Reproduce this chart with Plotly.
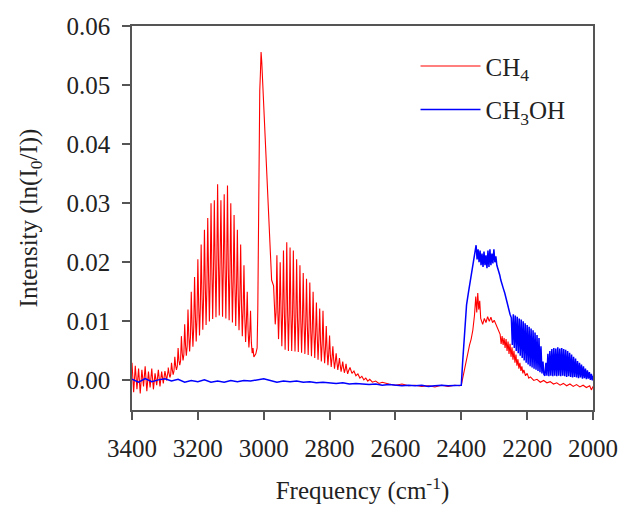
import numpy as np
import plotly.graph_objects as go

# ---------------- CH4 spectrum ----------------
# noisy baseline, 3400 -> 3290 cm-1, every 5 cm-1
ch4_base_start, ch4_base_step = 3400.0, -5.0
ch4_base = [0.0030, -0.0020, 0.0025, -0.0015, 0.0020, -0.0022, 0.0018, -0.0010,
            0.0024, -0.0018, 0.0015, -0.0012, 0.0020, -0.0015, 0.0012, -0.0008,
            0.0018, -0.0010, 0.0015, -0.0005, 0.0016, 0.0000, 0.0018]

# R branch, 3290 -> 3032.5 cm-1, every 2.5 cm-1
ch4_r_start, ch4_r_step = 3290.0, -2.5
ch4_r_branch = [
    0.0022, 0.0012, 0.0005, 0.0010,
    0.0030, 0.0018, 0.0010, 0.0016,
    0.0040, 0.0025, 0.0018, 0.0024,
    0.0055, 0.0034, 0.0026, 0.0033,
    0.0075, 0.0046, 0.0034, 0.0044,
    0.0095, 0.0060, 0.0042, 0.0058,
    0.0120, 0.0076, 0.0049, 0.0073,
    0.0150, 0.0093, 0.0057, 0.0090,
    0.0175, 0.0110, 0.0066, 0.0106,
    0.0205, 0.0128, 0.0076, 0.0124,
    0.0230, 0.0146, 0.0086, 0.0141,
    0.0255, 0.0163, 0.0094, 0.0158,
    0.0275, 0.0178, 0.0100, 0.0172,
    0.0300, 0.0190, 0.0104, 0.0186,
    0.0305, 0.0199, 0.0107, 0.0196,
    0.0332, 0.0205, 0.0110, 0.0202,
    0.0305, 0.0202, 0.0108, 0.0199,
    0.0315, 0.0197, 0.0105, 0.0192,
    0.0330, 0.0188, 0.0102, 0.0183,
    0.0300, 0.0178, 0.0098, 0.0172,
    0.0280, 0.0164, 0.0092, 0.0157,
    0.0255, 0.0147, 0.0085, 0.0139,
    0.0230, 0.0128, 0.0075, 0.0120,
    0.0195, 0.0108, 0.0065, 0.0100,
    0.0150, 0.0085, 0.0056, 0.0078,
    0.0118, 0.0064, 0.0046, 0.0055]

# Q branch
ch4_q_freq = [3030, 3024, 3020, 3018, 3016, 3014, 3012, 3010, 3008, 3006,
              3003, 3000, 2996, 2992, 2988, 2984, 2980, 2976]
ch4_q_branch = [0.0040, 0.0045, 0.0055, 0.0120, 0.0300, 0.0460, 0.0490, 0.0520,
                0.0556, 0.0540, 0.0500, 0.0470, 0.0430, 0.0360, 0.0300, 0.0250,
                0.0210, 0.0170]

# P branch, 2970 -> 2742.5 cm-1, every 2.5 cm-1
ch4_p_start, ch4_p_step = 2970.0, -2.5
ch4_p_branch = [
    0.0160, 0.0120, 0.0095, 0.0115,
    0.0212, 0.0125, 0.0070, 0.0118,
    0.0200, 0.0122, 0.0058, 0.0116,
    0.0220, 0.0120, 0.0052, 0.0114,
    0.0234, 0.0118, 0.0050, 0.0112,
    0.0225, 0.0115, 0.0050, 0.0110,
    0.0220, 0.0112, 0.0049, 0.0107,
    0.0205, 0.0108, 0.0048, 0.0104,
    0.0195, 0.0104, 0.0047, 0.0100,
    0.0182, 0.0099, 0.0045, 0.0095,
    0.0172, 0.0094, 0.0043, 0.0090,
    0.0166, 0.0089, 0.0041, 0.0085,
    0.0150, 0.0082, 0.0038, 0.0078,
    0.0132, 0.0075, 0.0035, 0.0070,
    0.0122, 0.0066, 0.0032, 0.0062,
    0.0118, 0.0058, 0.0029, 0.0054,
    0.0092, 0.0050, 0.0026, 0.0046,
    0.0076, 0.0042, 0.0023, 0.0038,
    0.0058, 0.0035, 0.0020, 0.0032,
    0.0046, 0.0030, 0.0018, 0.0027,
    0.0038, 0.0025, 0.0015, 0.0023,
    0.0032, 0.0021, 0.0013, 0.0019,
    0.0028, 0.0018, 0.0011, 0.0016]

# tail to the 2400 cm-1 edge
ch4_tail_freq = [2738, 2732, 2726, 2720, 2714, 2708, 2702, 2696, 2690, 2684,
                 2678, 2670, 2660, 2650, 2640, 2620, 2600, 2580, 2560, 2540,
                 2520, 2500, 2480, 2460, 2440, 2420, 2405, 2400]
ch4_tail = [0.0022, 0.0012, 0.0016, 0.0008, 0.0011, 0.0004, 0.0007, 0.0001,
            0.0004, -0.0001, 0.0002, -0.0003, -0.0001, -0.0005, -0.0003, -0.0006,
            -0.0008, -0.0006, -0.0009, -0.0008, -0.0010, -0.0009, -0.0011, -0.0008,
            -0.0010, -0.0008, -0.0009, -0.0008]

# band above 2400 cm-1
ch4_band_freq = [2395, 2390, 2385, 2380, 2375, 2370, 2365, 2360, 2356, 2353,
                 2350, 2347, 2344, 2341, 2338, 2335, 2330, 2325, 2320, 2315,
                 2310, 2305, 2300, 2295, 2290, 2285, 2282, 2279, 2276, 2273,
                 2270, 2267, 2264, 2261, 2258, 2255, 2252, 2249, 2246, 2243,
                 2240, 2237, 2234, 2231, 2228, 2225, 2222, 2219, 2216, 2213,
                 2210, 2205, 2200, 2195, 2190, 2180, 2170, 2160, 2150, 2140,
                 2130, 2120, 2110, 2100, 2090, 2080, 2070, 2060, 2050, 2040,
                 2030, 2020, 2010, 2005, 2000]
ch4_band = [0.0005, 0.0020, 0.0035, 0.0050, 0.0060, 0.0070, 0.0085, 0.0110,
            0.0142, 0.0115, 0.0148, 0.0120, 0.0135, 0.0105, 0.0100, 0.0095,
            0.0105, 0.0098, 0.0108, 0.0100, 0.0107, 0.0098, 0.0102, 0.0095,
            0.0088, 0.0080, 0.0078, 0.0062, 0.0075, 0.0060, 0.0072, 0.0055,
            0.0070, 0.0050, 0.0066, 0.0045, 0.0062, 0.0040, 0.0056, 0.0035,
            0.0050, 0.0030, 0.0044, 0.0025, 0.0036, 0.0020, 0.0030, 0.0016,
            0.0024, 0.0012, 0.0018, 0.0008, 0.0012, 0.0004, 0.0006, 0.0000,
            0.0002, -0.0003, 0.0000, -0.0004, -0.0002, -0.0006, -0.0004, -0.0008,
            -0.0005, -0.0009, -0.0006, -0.0010, -0.0007, -0.0011, -0.0008, -0.0012,
            -0.0009, -0.0016, -0.0010]

# ---------------- CH3OH spectrum ----------------
meoh_base_start, meoh_base_step = 3400.0, -20.0
meoh_base = [0.0002, -0.0003, 0.0003, -0.0002, 0.0001, 0.0003, -0.0001, 0.0002,
             -0.0003, 0.0000, -0.0002, 0.0001, -0.0003, -0.0001, -0.0003, 0.0000,
             -0.0002, 0.0000, -0.0001, 0.0001, 0.0003, 0.0000, -0.0003, -0.0001,
             -0.0002, -0.0001, -0.0003, -0.0002, -0.0004, -0.0003, -0.0004, -0.0005,
             -0.0004, -0.0006, -0.0005, -0.0006, -0.0007, -0.0006, -0.0008, -0.0007,
             -0.0008, -0.0009, -0.0008, -0.0009, -0.0008, -0.0010, -0.0009, -0.0008,
             -0.0009, -0.0008]

meoh_band_freq = [2405, 2400, 2396, 2392, 2388, 2384, 2378, 2372, 2366, 2362,
                  2358, 2355, 2352, 2349, 2346, 2343, 2340, 2337, 2334, 2331,
                  2328, 2325, 2322, 2319, 2316, 2313, 2310, 2307, 2304, 2301,
                  2298, 2295, 2292, 2289, 2286, 2283, 2280, 2276, 2272, 2268,
                  2264, 2260, 2256, 2252, 2248,
                  2245, 2242, 2239, 2236, 2233, 2230, 2227, 2224, 2221, 2218,
                  2215, 2212, 2209, 2206, 2203, 2200, 2197, 2194, 2191, 2188,
                  2185, 2182, 2179, 2176, 2173, 2170, 2167, 2164, 2161, 2158,
                  2155, 2152, 2149, 2146,
                  2143, 2140, 2137, 2134, 2131, 2128, 2125, 2122, 2119, 2116,
                  2113, 2110, 2107, 2104, 2101, 2098, 2095, 2092, 2089, 2086,
                  2083, 2080, 2077, 2074, 2071, 2068, 2065, 2062, 2059, 2056,
                  2053, 2050, 2047, 2044, 2041, 2038, 2035, 2032, 2029, 2026,
                  2023, 2020, 2017, 2014, 2011, 2008, 2005, 2002, 2000]
meoh_band = [-0.0008, -0.0008, 0.0030, 0.0070, 0.0100, 0.0128, 0.0150, 0.0170,
             0.0190, 0.0205, 0.0215, 0.0229, 0.0205, 0.0222, 0.0200, 0.0220,
             0.0195, 0.0215, 0.0192, 0.0218, 0.0195, 0.0212, 0.0190, 0.0220,
             0.0192, 0.0222, 0.0195, 0.0215, 0.0198, 0.0222, 0.0200, 0.0210,
             0.0195, 0.0190, 0.0182, 0.0178, 0.0170, 0.0160, 0.0155, 0.0148,
             0.0138, 0.0128, 0.0120, 0.0112, 0.0106,
             0.0060, 0.0112, 0.0055, 0.0110, 0.0050, 0.0108, 0.0046, 0.0105,
             0.0042, 0.0103, 0.0038, 0.0100, 0.0034, 0.0097, 0.0030, 0.0094,
             0.0027, 0.0091, 0.0024, 0.0088, 0.0022, 0.0085, 0.0020, 0.0081,
             0.0018, 0.0077, 0.0016, 0.0072, 0.0014, 0.0058, 0.0012, 0.0032,
             0.0010, 0.0008,
             0.0030, 0.0008, 0.0045, 0.0007, 0.0050, 0.0008, 0.0053, 0.0007,
             0.0055, 0.0008, 0.0054, 0.0007, 0.0056, 0.0008, 0.0054, 0.0007,
             0.0055, 0.0008, 0.0053, 0.0007, 0.0052, 0.0006, 0.0050, 0.0007,
             0.0047, 0.0006, 0.0044, 0.0005, 0.0040, 0.0006, 0.0037, 0.0005,
             0.0033, 0.0004, 0.0030, 0.0005, 0.0027, 0.0003, 0.0024, 0.0004,
             0.0020, 0.0002, 0.0017, 0.0003, 0.0014, 0.0001, 0.0011, 0.0000,
             0.0008]

x_ticks = [3400, 3200, 3000, 2800, 2600, 2400, 2200, 2000]
y_ticks = [0.00, 0.01, 0.02, 0.03, 0.04, 0.05, 0.06]


def grid(start, step, values):
    return [start + i * step for i in range(len(values))]


ch4_x = (grid(ch4_base_start, ch4_base_step, ch4_base)
         + grid(ch4_r_start, ch4_r_step, ch4_r_branch)
         + ch4_q_freq
         + grid(ch4_p_start, ch4_p_step, ch4_p_branch)
         + ch4_tail_freq + ch4_band_freq)
ch4_y = ch4_base + ch4_r_branch + ch4_q_branch + ch4_p_branch + ch4_tail + ch4_band

meoh_x = grid(meoh_base_start, meoh_base_step, meoh_base) + meoh_band_freq
meoh_y = meoh_base + meoh_band

FONT = "Liberation Serif, Times New Roman, serif"
TXT = "#222222"
FS = 25

fig = go.Figure()
fig.add_trace(go.Scatter(x=ch4_x, y=ch4_y, mode="lines", name="CH<sub>4</sub>",
                         legendgroup="a",
                         line=dict(color="#ff0000", width=1.1)))
fig.add_trace(go.Scatter(x=meoh_x, y=meoh_y, mode="lines", name="CH<sub>3</sub>OH",
                         legendgroup="b",
                         line=dict(color="#0000ff", width=1.5)))

axis_common = dict(showline=True, linecolor="#555555", linewidth=1.5, mirror=True,
                   ticks="outside", ticklen=8, tickwidth=1.5, tickcolor="#555555",
                   showgrid=False, zeroline=False, automargin=False,
                   tickfont=dict(family=FONT, size=FS, color=TXT))

fig.update_layout(
    width=621, height=509,
    margin=dict(l=132, r=28, t=26, b=99),
    paper_bgcolor="white", plot_bgcolor="white",
    font=dict(family=FONT, size=FS, color=TXT),
    xaxis=dict(range=[3400, 2000], tickvals=x_ticks,
               ticktext=[str(v) for v in x_ticks],
               ticklabelstandoff=7,
               title=dict(text="Frequency (cm<sup>-1</sup>)",
                          font=dict(family=FONT, size=FS, color=TXT),
                          standoff=21),
               **axis_common),
    yaxis=dict(range=[-0.005, 0.06], tickvals=y_ticks, tickformat=".2f",
               ticklabelstandoff=7,
               title=dict(text="Intensity (ln(I<sub>0</sub>/I))",
                          font=dict(family=FONT, size=FS, color=TXT),
                          standoff=22),
               **axis_common),
    legend=dict(x=0.615, y=0.955, xanchor="left", yanchor="top",
                bgcolor="rgba(0,0,0,0)", borderwidth=0, itemwidth=60,
                traceorder="grouped", tracegroupgap=8,
                font=dict(family=FONT, size=FS, color=TXT)),
    showlegend=True,
)

# remove the default 8 px page margin so the 621x509 figure fills the window exactly
fig.write_html("out.html",
               config={"displayModeBar": False},
               post_script="document.body.style.margin='0';"
                           "document.body.style.overflow='hidden';")
